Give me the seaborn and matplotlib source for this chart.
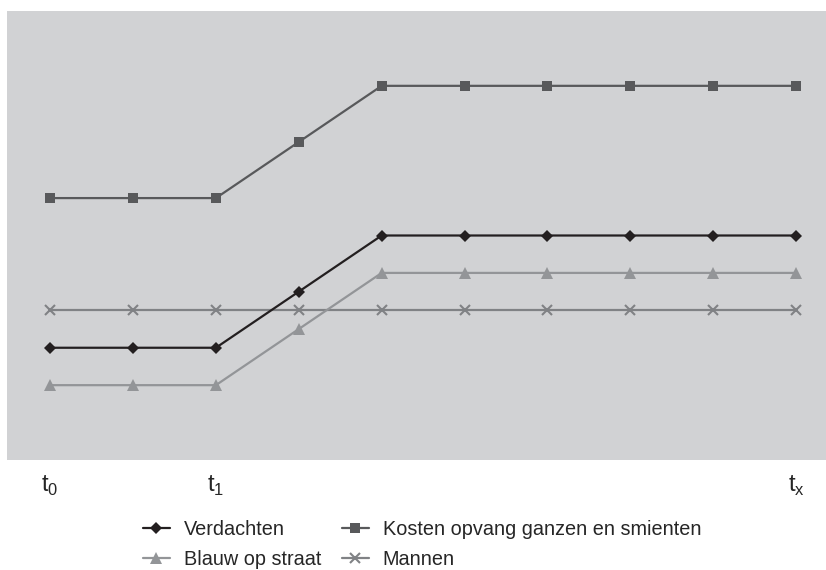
import matplotlib
matplotlib.use("Agg")
import matplotlib.pyplot as plt
import seaborn as sns
import pandas as pd
from matplotlib import font_manager

periods = list(range(10))
tick_positions = [0, 2, 9]
tick_labels = [r"$\mathrm{t}_{\mathrm{0}}$", r"$\mathrm{t}_{\mathrm{1}}$", r"$\mathrm{t}_{\mathrm{x}}$"]

verdachten = [1.5, 1.5, 1.5, 2.25, 3, 3, 3, 3, 3, 3]
kosten = [3.5, 3.5, 3.5, 4.25, 5, 5, 5, 5, 5, 5]
blauw = [1, 1, 1, 1.75, 2.5, 2.5, 2.5, 2.5, 2.5, 2.5]
mannen = [2, 2, 2, 2, 2, 2, 2, 2, 2, 2]

series_names = ["Verdachten", "Kosten opvang ganzen en smienten", "Blauw op straat", "Mannen"]

sns.set_theme(style="white")
names = {f.name for f in font_manager.fontManager.ttflist}
fam = "Liberation Sans Narrow" if "Liberation Sans Narrow" in names else "Liberation Sans"
plt.rcParams["font.family"] = [fam, "DejaVu Sans"]
plt.rcParams["mathtext.fontset"] = "custom"
plt.rcParams["mathtext.rm"] = fam

df = pd.DataFrame({
    "t": periods * 4,
    "value": verdachten + kosten + blauw + mannen,
    "serie": sum([[n] * 10 for n in series_names], []),
})

fig = plt.figure(figsize=(8.26, 5.70), dpi=100)
ax = fig.add_axes([7 / 826, 110 / 570, 819 / 826, 449 / 570])
ax.set_facecolor("#d1d2d4")

styles = {
    "Mannen": dict(color="#808285", marker="x", ms=7, mew=1.5),
    "Blauw op straat": dict(color="#939598", marker="^", ms=8.5, mew=0),
    "Kosten opvang ganzen en smienten": dict(color="#58595b", marker="s", ms=7, mew=0),
    "Verdachten": dict(color="#231f20", marker="D", ms=6.5, mew=0),
}
for name in ["Mannen", "Blauw op straat", "Kosten opvang ganzen en smienten", "Verdachten"]:
    st = styles[name]
    sns.lineplot(data=df[df["serie"] == name], x="t", y="value", ax=ax,
                 color=st["color"], marker=st["marker"], markersize=st["ms"],
                 markeredgewidth=st["mew"], markeredgecolor=st["color"],
                 linewidth=1.6, label=name)

ax.set_xlim(-0.52, 9.36)
ax.set_ylim(0, 6)
ax.set_yticks([])
ax.set_xticks(tick_positions)
ax.set_xticklabels(tick_labels, fontsize=17)
ax.tick_params(axis="x", length=0, pad=10)
ax.set_xlabel("")
ax.set_ylabel("")
for s in ax.spines.values():
    s.set_visible(False)

handles, labels = ax.get_legend_handles_labels()
order = ["Verdachten", "Blauw op straat", "Kosten opvang ganzen en smienten", "Mannen"]
hmap = dict(zip(labels, handles))
ax.legend([hmap[o] for o in order], order, ncol=2, loc="upper center",
          bbox_to_anchor=(422 / 826, 1 - 510 / 570), bbox_transform=fig.transFigure,
          frameon=False, fontsize=14.3, handlelength=1.36, handletextpad=0.7,
          columnspacing=1.05, labelspacing=0.55, borderpad=0)

fig.savefig("out.png", dpi=100)
